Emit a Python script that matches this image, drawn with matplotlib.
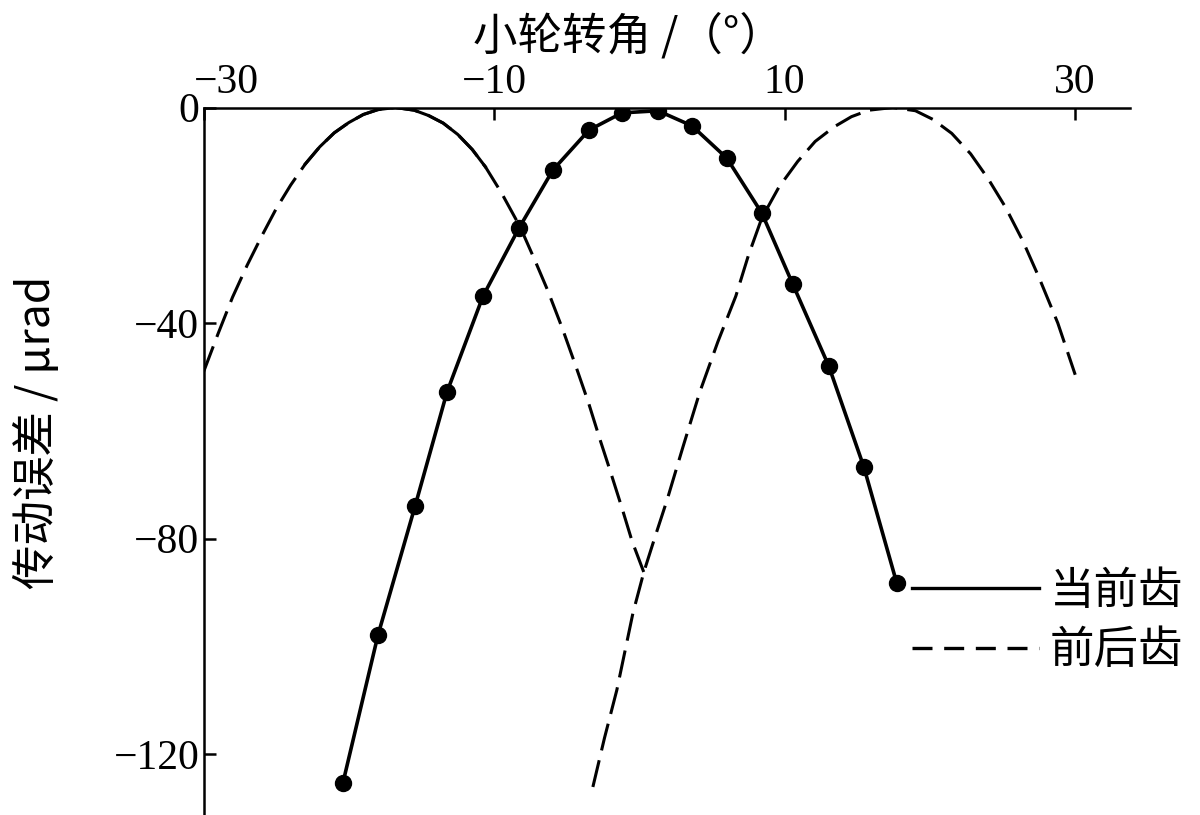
import matplotlib
matplotlib.use("Agg")
import matplotlib.pyplot as plt
import matplotlib.transforms as mtransforms
from matplotlib.lines import Line2D

# ---- data ----
cur_x = [-20.40, -17.99, -15.44, -13.24, -10.76, -8.29, -5.95, -3.47, -1.20,
         1.28, 3.62, 6.02, 8.43, 10.56, 13.04, 15.45, 17.72]
cur_y = [-125.3, -97.9, -74.0, -52.8, -35.0, -22.4, -11.6, -4.2, -1.0,
         -0.6, -3.4, -9.4, -19.6, -32.8, -48.0, -66.7, -88.3]

prev_x = [-30.0, -29.0, -28.0, -27.0, -26.0, -25.0, -24.0, -23.0, -22.0, -21.0,
          -20.0, -19.0, -18.0, -16.8, -15.5, -14.5, -13.5, -12.5, -11.5, -10.6,
          -9.5, -8.2, -7.2, -6.3, -5.3, -4.4, -3.5, -2.7, -2.0, -1.2, -0.5, 0.3]
prev_y = [-49.1, -42.0, -35.2, -29.3, -23.9, -18.8, -14.4, -10.5, -7.3, -4.7,
          -2.8, -1.3, -0.4, 0.0, -0.5, -1.5, -2.9, -5.0, -7.8, -11.0,
          -15.8, -22.2, -28.3, -34.0, -41.0, -47.8, -54.8, -61.7, -67.5, -74.3, -80.5, -86.2]

next_x = [-3.2, -2.4, -1.55, -0.44, 0.31, 1.1, 1.9, 3.0, 4.16, 5.4, 6.64, 7.5,
          8.43, 9.6, 10.9, 12.1, 13.4, 14.6, 15.8, 17.45, 19.0, 20.2, 21.5, 22.8,
          24.0, 25.2, 26.4, 27.5, 28.8, 30.0]
next_y = [-126.1, -117.0, -108.1, -93.8, -86.2, -79.5, -72.9, -63.0, -52.8, -43.5, -35.0, -27.5,
          -20.5, -14.8, -10.0, -6.3, -3.6, -1.7, -0.5, 0.0, -0.6, -2.2, -4.8, -8.6,
          -13.2, -18.5, -24.8, -31.5, -40.0, -49.6]

x_ticks = [-30, -10, 10, 30]
y_ticks = [0, -40, -80, -120]
x_label = "小轮转角 /（°）"
y_label = "传动误差 / μrad"
legend_labels = ["当前齿", "前后齿"]

cjk = ["Noto Sans CJK SC", "DejaVu Sans"]
serif = ["Liberation Serif", "DejaVu Serif"]

fig = plt.figure(figsize=(12, 8.15), dpi=100)
ax = fig.add_axes([203.5 / 1200, 0.0, (1130 - 203.5) / 1200, 1 - 107.5 / 815])

dash = (0, (9, 3.3))
lw_d = 2.2
ax.plot(prev_x, prev_y, color="black", lw=lw_d, linestyle=dash, solid_capstyle="butt")
ax.plot(prev_x[7:20], prev_y[7:20], color="black", lw=lw_d, linestyle="-")
ax.plot(next_x, next_y, color="black", lw=lw_d, linestyle=dash)
ax.plot(cur_x, cur_y, color="black", lw=2.6, marker="o", markersize=11.5,
        markerfacecolor="black", markeredgecolor="black")

ax.set_xlim(-30, 33.77)
ax.set_ylim(-131.3, 0)

for s in ["right", "bottom"]:
    ax.spines[s].set_visible(False)
for s in ["left", "top"]:
    ax.spines[s].set_linewidth(1.8)

ax.xaxis.tick_top()
ax.set_xticks(x_ticks)
ax.set_yticks(y_ticks)
ax.tick_params(axis="both", direction="in", length=8.5, width=1.8,
               labelsize=30)
ax.tick_params(axis="x", pad=4)
ax.tick_params(axis="y", pad=3)
for lab in ax.get_xticklabels() + ax.get_yticklabels():
    lab.set_family(serif)

# shift the -30 label right, as in the reference
fig.canvas.draw()
lab0 = ax.get_xticklabels()[0]
lab0.set_transform(lab0.get_transform() +
                   mtransforms.ScaledTranslation(23 / 100, 0, fig.dpi_scale_trans))

fig.text(628 / 1200, 1 - 36 / 815, x_label, family=cjk, fontsize=32,
         ha="center", va="center")
fig.text(37 / 1200, 1 - 432 / 815, y_label, family=cjk, fontsize=32,
         ha="center", va="center", rotation=90)

handles = [Line2D([], [], color="black", lw=2.4),
           Line2D([], [], color="black", lw=2.4, linestyle=(0, (6, 3.5)))]
leg = fig.legend(handles, legend_labels, loc="upper left",
                 bbox_to_anchor=(912 / 1200, 1 - 568 / 815),
                 frameon=False, prop={"family": cjk, "size": 32},
                 handlelength=2.85, handletextpad=0.25, labelspacing=0.3,
                 borderpad=0, borderaxespad=0)

fig.savefig("out.png", dpi=100)
